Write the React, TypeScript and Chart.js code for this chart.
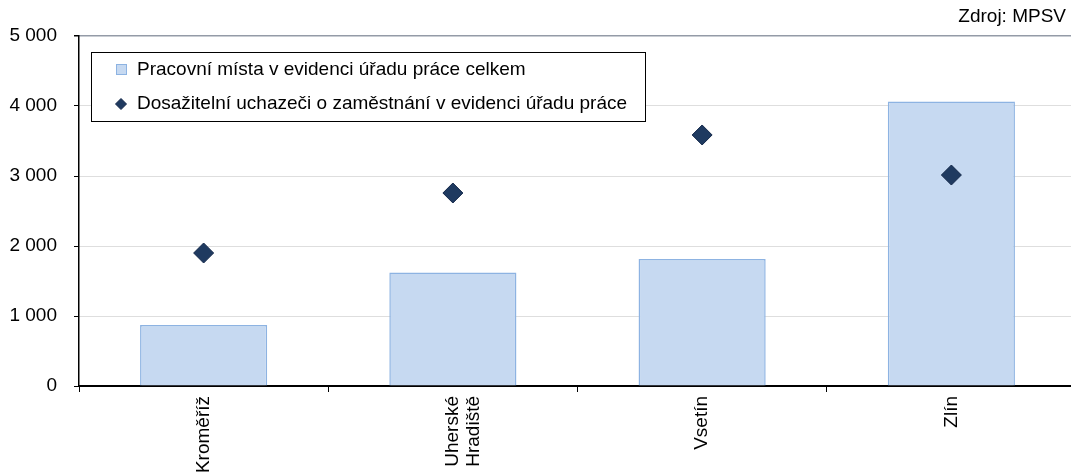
import React, { useEffect, useRef } from "react";
import { Chart, registerables } from "chart.js";

Chart.register(...registerables);

const categories: (string | string[])[] = ["Kroměříž", ["Uherské", "Hradiště"], "Vsetín", "Zlín"];
const jobVacancies = [871, 1620, 1814, 4063];
const jobSeekers = [1900, 2757, 3586, 3014];
const yTickValues = [0, 1000, 2000, 3000, 4000, 5000];
const barLabel = "Pracovní místa v evidenci úřadu práce celkem";
const pointLabel = "Dosažitelní uchazeči o zaměstnání v evidenci úřadu práce";
const sourceText = "Zdroj: MPSV";

const FONT = "'Liberation Sans', Arial, sans-serif";
const FS = 19;
const BAR_FILL = "#c6d9f1";
const BAR_BORDER = "#8db3e2";
const DIAMOND_FILL = "#1f3a60";
const DIAMOND_BORDER = "#14284a";
const CANVAS_W = 1076;

const formatThousands = (v: number) =>
  String(v).replace(/\B(?=(\d{3})+(?!\d))/g, " ");

const overlayPlugin = {
  id: "overlay",
  afterDraw(chart: any) {
    const ctx = chart.ctx as CanvasRenderingContext2D;
    ctx.save();
    ctx.font = `${FS}px ${FONT}`;
    ctx.fillStyle = "#000";
    ctx.textAlign = "right";
    ctx.textBaseline = "middle";
    ctx.fillText(sourceText, 1066, 17);
    const lx = 91.5, ly = 52.5, lw = 554, lh = 69;
    ctx.fillStyle = "#fff";
    ctx.fillRect(lx, ly, lw, lh);
    ctx.strokeStyle = "#000";
    ctx.lineWidth = 1;
    ctx.strokeRect(lx, ly, lw, lh);
    ctx.fillStyle = BAR_FILL;
    ctx.fillRect(116, 64, 11, 11);
    ctx.strokeStyle = BAR_BORDER;
    ctx.strokeRect(116.5, 64.5, 10, 10);
    const cx = 121, cy = 104, r = 5.5;
    ctx.beginPath();
    ctx.moveTo(cx - r, cy);
    ctx.lineTo(cx, cy - r);
    ctx.lineTo(cx + r, cy);
    ctx.lineTo(cx, cy + r);
    ctx.closePath();
    ctx.fillStyle = DIAMOND_FILL;
    ctx.fill();
    ctx.strokeStyle = DIAMOND_BORDER;
    ctx.stroke();
    ctx.fillStyle = "#000";
    ctx.textAlign = "left";
    ctx.textBaseline = "middle";
    ctx.fillText(barLabel, 137, 70);
    ctx.fillText(pointLabel, 137, 104);
    ctx.restore();
  },
};

export default function App() {
  const canvasRef = useRef<HTMLCanvasElement | null>(null);

  useEffect(() => {
    if (!canvasRef.current) return;
    const chart = new Chart(canvasRef.current, {
      type: "bar",
      data: {
        labels: categories as any,
        datasets: [
          {
            type: "scatter" as any,
            label: pointLabel,
            data: jobSeekers as any,
            pointStyle: "rectRot",
            pointRadius: 10,
            pointBackgroundColor: DIAMOND_FILL,
            pointBorderColor: DIAMOND_BORDER,
            pointBorderWidth: 1,
            showLine: false,
            order: 0,
          } as any,
          {
            type: "bar",
            label: barLabel,
            data: jobVacancies,
            backgroundColor: BAR_FILL,
            borderColor: BAR_BORDER,
            borderWidth: 1.5,
            barPercentage: 0.51,
            categoryPercentage: 1,
            order: 1,
          },
        ],
      },
      options: {
        animation: false,
        responsive: false,
        maintainAspectRatio: false,
        layout: { autoPadding: false, padding: { top: 36, right: 0, left: 0, bottom: 0 } },
        plugins: {
          legend: { display: false },
          tooltip: { enabled: false },
        },
        scales: {
          x: {
            type: "category",
            offset: true,
            grid: {
              offset: true,
              drawOnChartArea: false,
              drawTicks: true,
              tickLength: 6,
              tickColor: "#000",
            },
            border: { display: true, color: "#000", width: 2 },
            ticks: {
              autoSkip: false,
              maxRotation: 90,
              minRotation: 90,
              padding: 4,
              color: "#000",
              font: { family: FONT, size: FS, lineHeight: 1.1 },
            },
            afterFit(scale: any) {
              scale.height = 86;
              scale.paddingLeft = 0;
              scale.paddingRight = 0;
            },
          },
          y: {
            min: 0,
            max: 5000,
            afterBuildTicks(scale: any) {
              scale.ticks = yTickValues.map((v) => ({ value: v }));
            },
            grid: {
              color: (c: any) => (c.tick && c.tick.value === 5000 ? "#2b3850" : "#bdbdbd"),
              lineWidth: (c: any) => (c.tick && c.tick.value === 5000 ? 1.5 : 1),
              tickColor: "#000",
              tickLength: 5,
            },
            border: { display: true, color: "#000", width: 1.5, dash: [1, 1] },
            ticks: {
              padding: 17,
              color: "#000",
              font: { family: FONT, size: FS },
              callback: (v: any) => formatThousands(Number(v)),
            },
            afterFit(scale: any) {
              scale.width = 79;
              scale.paddingTop = 0;
              scale.paddingBottom = 0;
            },
          },
        },
      },
      plugins: [overlayPlugin],
    });
    return () => chart.destroy();
  }, []);

  return (
    <div style={{ position: "fixed", left: 0, top: 0, width: 1071, height: 472, overflow: "hidden", background: "#fff" }}>
      <canvas ref={canvasRef} width={CANVAS_W} height={472} style={{ width: CANVAS_W, height: 472, display: "block" }} />
    </div>
  );
}
